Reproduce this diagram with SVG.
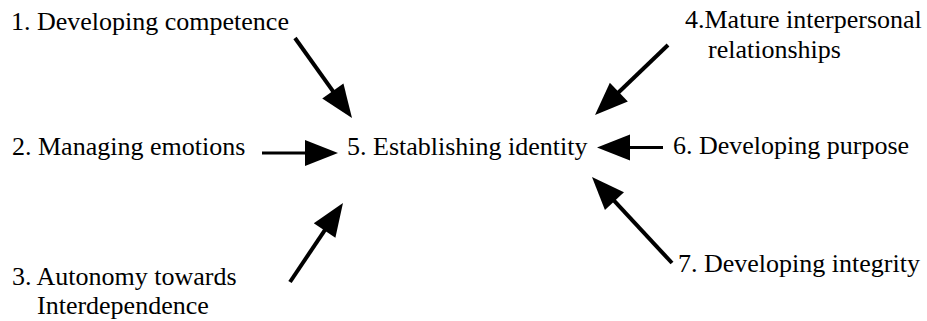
<svg xmlns="http://www.w3.org/2000/svg" width="927" height="321" viewBox="0 0 927 321">
<style>
text{font-family:"Liberation Serif","Times New Roman",serif;font-size:26px;fill:#000}
.c line{stroke:#000;stroke-width:4;marker-end:url(#ah)}
.c line.h{stroke-width:3.2}
</style>
<defs>
<marker id="ah" markerUnits="userSpaceOnUse" markerWidth="34" markerHeight="26" refX="2" refY="13" orient="auto" overflow="visible">
<path d="M0,0 L33,13 L0,26 Z" fill="#000"/>
</marker>
</defs>
<rect width="927" height="321" fill="#fff"/>
<g id="n1"><text x="11" y="30">1. Developing competence</text></g>
<g id="n2"><text x="12" y="155">2. Managing emotions</text></g>
<g id="n3"><text x="12" y="284.5">3. Autonomy towards</text><text x="37" y="313.5">Interdependence</text></g>
<g id="n4"><text x="685" y="28">4.Mature interpersonal</text><text x="708" y="58">relationships</text></g>
<g id="n5"><text x="347" y="155">5. Establishing identity</text></g>
<g id="n6"><text x="673" y="154">6. Developing purpose</text></g>
<g id="n7"><text x="678" y="272">7. Developing integrity</text></g>
<g class="c" id="connectors">
<line x1="295" y1="38" x2="334" y2="92.7"/>
<line class="h" x1="262" y1="153" x2="307" y2="153"/>
<line x1="290" y1="282" x2="325.7" y2="228.8"/>
<line x1="668" y1="45" x2="617.4" y2="93.5"/>
<line class="h" x1="663" y1="147.5" x2="628" y2="147.5"/>
<line x1="672" y1="263" x2="613.1" y2="199.7"/>
</g>
</svg>
